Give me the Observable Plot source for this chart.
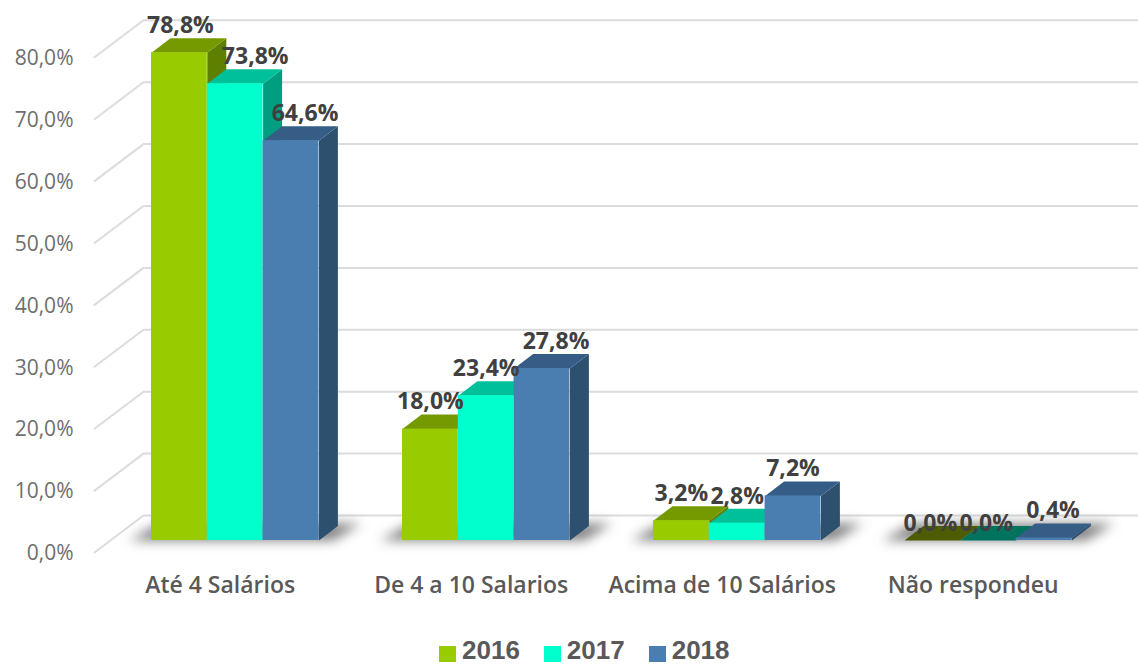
<!DOCTYPE html>
<html lang="pt">
<head>
<meta charset="utf-8">
<script src="https://cdn.jsdelivr.net/npm/d3@7"></script>
<script src="https://cdn.jsdelivr.net/npm/@observablehq/plot@0.6"></script>
<style>
  html, body { margin: 0; padding: 0; background: #fff; overflow: hidden; }
  svg { display: block; }
  #legend { display: flex; box-sizing: border-box; height: 35px; padding: 5px 0 0 439px; align-items: center;
            font: 700 26px/30px "Liberation Sans", sans-serif; color: #595959; }
  #legend span.item { display: flex; align-items: center; margin-right: 24px; }
  #legend i { display: block; width: 17px; height: 16px; margin-right: 6px; position: relative; top: 4px; }
</style>
</head>
<body>
<div id="chart"></div>
<div id="legend"></div>
<script>
const categories = ["Até 4 Salários", "De 4 a 10 Salarios", "Acima de 10 Salários", "Não respondeu"];
const years = ["2016", "2017", "2018"];
const values2016 = [78.8, 18.0, 3.2, 0.0];
const values2017 = [73.8, 23.4, 2.8, 0.0];
const values2018 = [64.6, 27.8, 7.2, 0.4];
const yTicks = [0, 10, 20, 30, 40, 50, 60, 70, 80];

const seriesValues = [values2016, values2017, values2018];
const frontColors = ["#99cc00", "#00ffcc", "#4a7db0"];
const topColors = ["#749a00", "#00c09a", "#365d85"];
const sideColors = ["#5f7f00", "#009e80", "#2e506f"];
const floorColors = ["#4d5c00", "#00735f", "#365d85"];

// Projection of the 3D box, in scale units
const H = 630, W = 1138;
const pxPerGroup = 251, pxPerPct = 6.19;
const barW = 55.8 / pxPerGroup;
const depthX = 19 / pxPerGroup, depthY = 14.5 / pxPerPct;
const wallFrontX = -57 / pxPerGroup, wallBackX = -8 / pxPerGroup;
const wallFrontY = -12 / pxPerPct, wallBackY = 25 / pxPerPct;
const xDomain = [-151 / pxPerGroup, (W - 151) / pxPerGroup];
const yDomain = [(540 - H) / pxPerPct, 540 / pxPerPct];
const fmt = v => v.toFixed(1).replace(".", ",") + "%";

const faces = [], fronts = [], labels = [];
const labelNudge = [[1, 20, 14], [0, 0, 14], [0, 0, 0], [-2, -2, 9]];
categories.forEach((cat, g) => {
  seriesValues.forEach((vals, s) => {
    const v = vals[g], x0 = g + s * barW, x1 = x0 + barW;
    const id = g + "-" + s;
    if (v > 0) fronts.push({id, x0, x1, v, color: frontColors[s]});
    const top = v > 0 ? topColors[s] : floorColors[s];
    [[x1, v], [x1 + depthX, v + depthY], [x1 + depthX, depthY], [x1, 0]].forEach(([x, y]) =>
      faces.push({id: id + "s", x, y, color: sideColors[s], bar: id}));
    [[x0, v], [x0 + depthX, v + depthY], [x1 + depthX, v + depthY], [x1, v]].forEach(([x, y]) =>
      faces.push({id: id + "t", x, y, color: top, bar: id}));
    labels.push({x: x0 + barW / 2 + labelNudge[g][s] / pxPerGroup, y: v, text: fmt(v)});
  });
});

const shadows = categories.flatMap((cat, g) => {
  const a = g, b = g + 3 * barW;
  return [[a - 22 / pxPerGroup, 0], [b + 14 / pxPerGroup, 0], [b + 42 / pxPerGroup, depthY + 0.4], [a + 8 / pxPerGroup, depthY + 0.4]]
    .map(([x, y]) => ({id: g, x, y}));
});

const wall = yTicks.flatMap(t => [
  {t, x: wallFrontX, y: t + wallFrontY},
  {t, x: wallBackX, y: t + wallBackY},
  {t, x: xDomain[1], y: t + wallBackY}
]);

// bars are painted left to right, each one over its neighbour
const barMarks = [];
categories.forEach((cat, g) => {
  seriesValues.forEach((vals, s) => {
    const id = g + "-" + s;
    barMarks.push(Plot.line(faces.filter(f => f.bar === id), {x: "x", y: "y", z: "id", fill: "color", stroke: null}));
    barMarks.push(Plot.rectY(fronts.filter(f => f.id === id), {x1: "x0", x2: "x1", y1: 0, y2: "v", fill: "color"}));
  });
});

const labelStyle = {fill: "#404040", fontFamily: "Open Sans", fontWeight: 700, fontSize: 23};

const chart = Plot.plot({
  width: W, height: H,
  marginTop: 0, marginRight: 0, marginBottom: 0, marginLeft: 0,
  style: {background: "#fff"},
  x: {domain: xDomain, range: [0, W], axis: null},
  y: {domain: yDomain, range: [H, 0], axis: null},
  color: {type: "identity"},
  marks: [
    Plot.line(wall, {x: "x", y: "y", z: "t", stroke: "#dcdcdc", strokeWidth: 2, curve: "linear"}),
    Plot.line(shadows, {x: "x", y: "y", z: "id", fill: "#3c3c3c", stroke: null, fillOpacity: 0.65, imageFilter: "blur(6px)"}),
    ...barMarks,
    Plot.text(yTicks, {
      x: wallFrontX, y: d => d + wallFrontY, text: d => fmt(d), dx: -21, dy: 1,
      textAnchor: "end", fill: "#6e6e6e", fontFamily: "Open Sans", fontSize: 21
    }),
    Plot.text(categories, {
      x: (d, i) => i + 1.5 * barW - 15 / pxPerGroup, y: -45 / pxPerPct, text: d => d,
      fill: "#595959", fontFamily: "Open Sans", fontSize: 23, fontWeight: 600
    }),
    Plot.text(labels.filter(l => l.y > 0), {x: "x", y: "y", text: "text", dy: -27, ...labelStyle}),
    Plot.text(labels.filter(l => l.y === 0), {x: "x", y: "y", text: "text", dy: -17, ...labelStyle})
  ]
});
document.getElementById("chart").append(chart);

const legend = d3.select("#legend");
years.forEach((y, i) => {
  const item = legend.append("span").attr("class", "item");
  item.append("i").style("background", frontColors[i]);
  item.append("span").text(y);
});
</script>
</body>
</html>
